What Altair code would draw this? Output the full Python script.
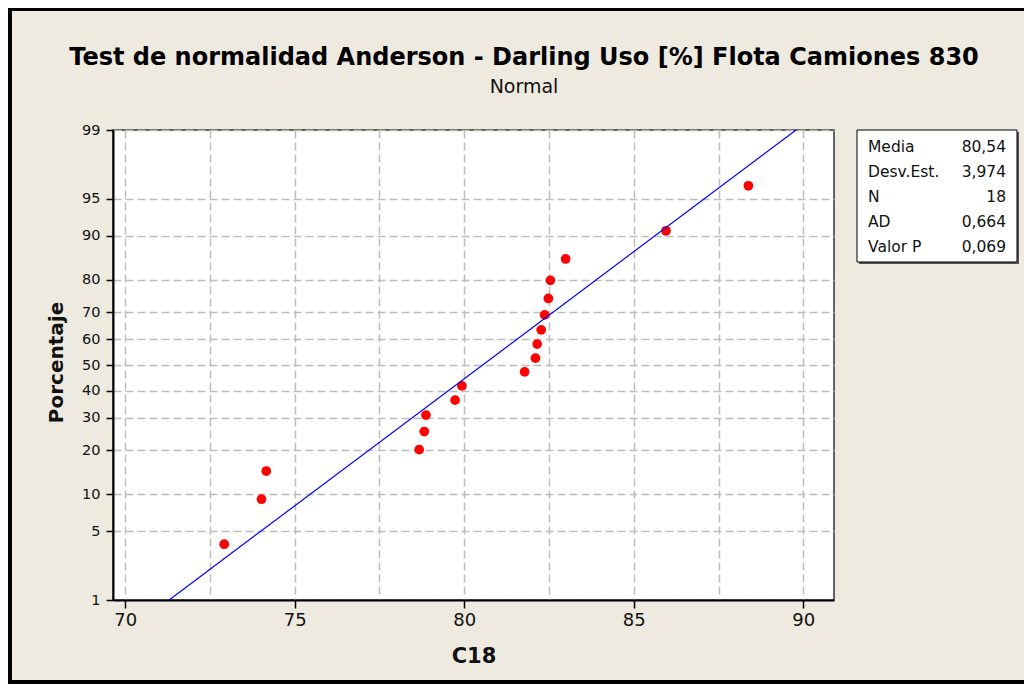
import altair as alt
import pandas as pd
from statistics import NormalDist

# ---- data ----
uso = [72.92, 74.02, 74.16, 78.67, 78.82, 78.87, 79.73, 79.93, 81.78,
       82.10, 82.15, 82.27, 82.37, 82.48, 82.54, 82.99, 85.95, 88.38]
porcentaje = [3.8, 9.2, 14.7, 20.1, 25.5, 31.0, 36.4, 41.8, 47.3,
              52.7, 58.2, 63.6, 69.0, 74.5, 79.9, 85.3, 90.8, 96.2]
media = 80.54
desv_est = 3.974
linea_p = [1, 99]
y_ticks = [1, 5, 10, 20, 30, 40, 50, 60, 70, 80, 90, 95, 99]
x_grid = [70, 72.5, 75, 77.5, 80, 82.5, 85, 87.5, 90]
x_domain = [69.64, 90.905]
stat_labels = ["Media", "Desv.Est.", "N", "AD", "Valor P"]
stat_values = ["80,54", "3,974", "18", "0,664", "0,069"]
titulo = "Test de normalidad Anderson - Darling Uso [%] Flota Camiones 830"
subtitulo = "Normal"

FONT = "DejaVu Sans"
TXT = "#111111"

nd = NormalDist()
y_tick_z = [nd.inv_cdf(p / 100) for p in y_ticks]
y_domain = [nd.inv_cdf(0.01), nd.inv_cdf(0.99)]

W, H = 721, 470
PAD = {"left": 105, "top": 122, "right": 190, "bottom": 84}

x_axis = alt.Axis(
    values=x_grid, title="C18", grid=True,
    gridColor="#BDBDBD", gridDash=[8, 4], gridWidth=1.5,
    labelExpr="datum.value % 5 == 0 ? datum.label : ''",
    labelFont=FONT, labelFontSize=18, labelColor=TXT,
    labelBaseline="middle", labelPadding=12,
    tickSize=8, tickColor="#000", tickWidth=1.5,
    tickOpacity={"condition": {"test": "datum.value % 5 === 0", "value": 1}, "value": 0},
    domainColor="#000", domainWidth=2,
    titleFont=FONT, titleFontSize=21, titleFontWeight="bold", titleColor=TXT,
    titleY=56, titleBaseline="middle",
)
y_axis = alt.Axis(
    values=y_tick_z, title="Porcentaje", grid=True,
    gridColor="#BDBDBD", gridDash=[8, 4], gridWidth=1.5,
    labelExpr="format(round(cumulativeNormal(datum.value) * 100), 'd')",
    labelFont=FONT, labelFontSize=14.5, labelColor=TXT, labelPadding=6,
    tickSize=7, tickColor="#000", tickWidth=1.5,
    domainColor="#000", domainWidth=2,
    titleFont=FONT, titleFontSize=20, titleFontWeight="bold", titleColor=TXT,
    titleAngle=-90, titleX=-57, titleY=232, titleAlign="center", titleBaseline="middle",
)

x_scale = alt.Scale(domain=x_domain, nice=False, zero=False)
y_scale = alt.Scale(domain=y_domain, nice=False, zero=False)

pts_df = pd.DataFrame({"uso": uso, "porcentaje": porcentaje})
line_df = pd.DataFrame({"p": linea_p})
one = alt.Data(values=[{}])

points = alt.Chart(pts_df).transform_calculate(
    z="quantileNormal(datum.porcentaje / 100)"
).mark_circle(color="#FF0000", opacity=1, size=95).encode(
    x=alt.X("uso:Q", scale=x_scale, axis=x_axis),
    y=alt.Y("z:Q", scale=y_scale, axis=y_axis),
)

line = alt.Chart(line_df).transform_calculate(
    z="quantileNormal(datum.p / 100)",
    xv=f"{media} + {desv_est} * quantileNormal(datum.p / 100)",
).mark_line(color="#0000FF", strokeWidth=1.2).encode(
    x=alt.X("xv:Q", scale=x_scale, axis=x_axis),
    y=alt.Y("z:Q", scale=y_scale, axis=y_axis),
)

box_shadow = alt.Chart(one).mark_rect(fill="#555555").encode(
    x=alt.value(746), x2=alt.value(906), y=alt.value(2), y2=alt.value(134)
)
box = alt.Chart(one).mark_rect(fill="white", stroke="#000", strokeWidth=1).encode(
    x=alt.value(744), x2=alt.value(904), y=alt.value(0), y2=alt.value(132)
)
lbl = alt.Chart(one).mark_text(
    align="left", baseline="middle", font=FONT, fontSize=15.5, lineHeight=25, color=TXT
).encode(x=alt.value(755), y=alt.value(16.7), text=alt.value(stat_labels))
val = alt.Chart(one).mark_text(
    align="right", baseline="middle", font=FONT, fontSize=15.5, lineHeight=25, color=TXT
).encode(x=alt.value(893), y=alt.value(16.7), text=alt.value(stat_values))

title_txt = alt.Chart(one).mark_text(
    align="center", baseline="middle", font=FONT, fontSize=24, fontWeight="bold", color="#000"
).encode(x=alt.value(411), y=alt.value(-72), text=alt.value(titulo))
sub_txt = alt.Chart(one).mark_text(
    align="center", baseline="middle", font=FONT, fontSize=19, color=TXT
).encode(x=alt.value(411), y=alt.value(-43), text=alt.value(subtitulo))

frame = alt.Chart(one).mark_rect(fill=None, stroke="#000", strokeWidth=4).encode(
    x=alt.value(-103), x2=alt.value(960), y=alt.value(-121), y2=alt.value(552)
)

chart = alt.layer(points, line, box_shadow, box, lbl, val, title_txt, sub_txt, frame).properties(
    width=W, height=H,
    padding=PAD,
    autosize=alt.AutoSizeParams(type="none"),
    background="#EEEAE0",
).configure_view(fill="white", stroke="#333333", strokeWidth=1.5)

chart.save("out.html", embed_options={"renderer": "svg", "actions": False})
